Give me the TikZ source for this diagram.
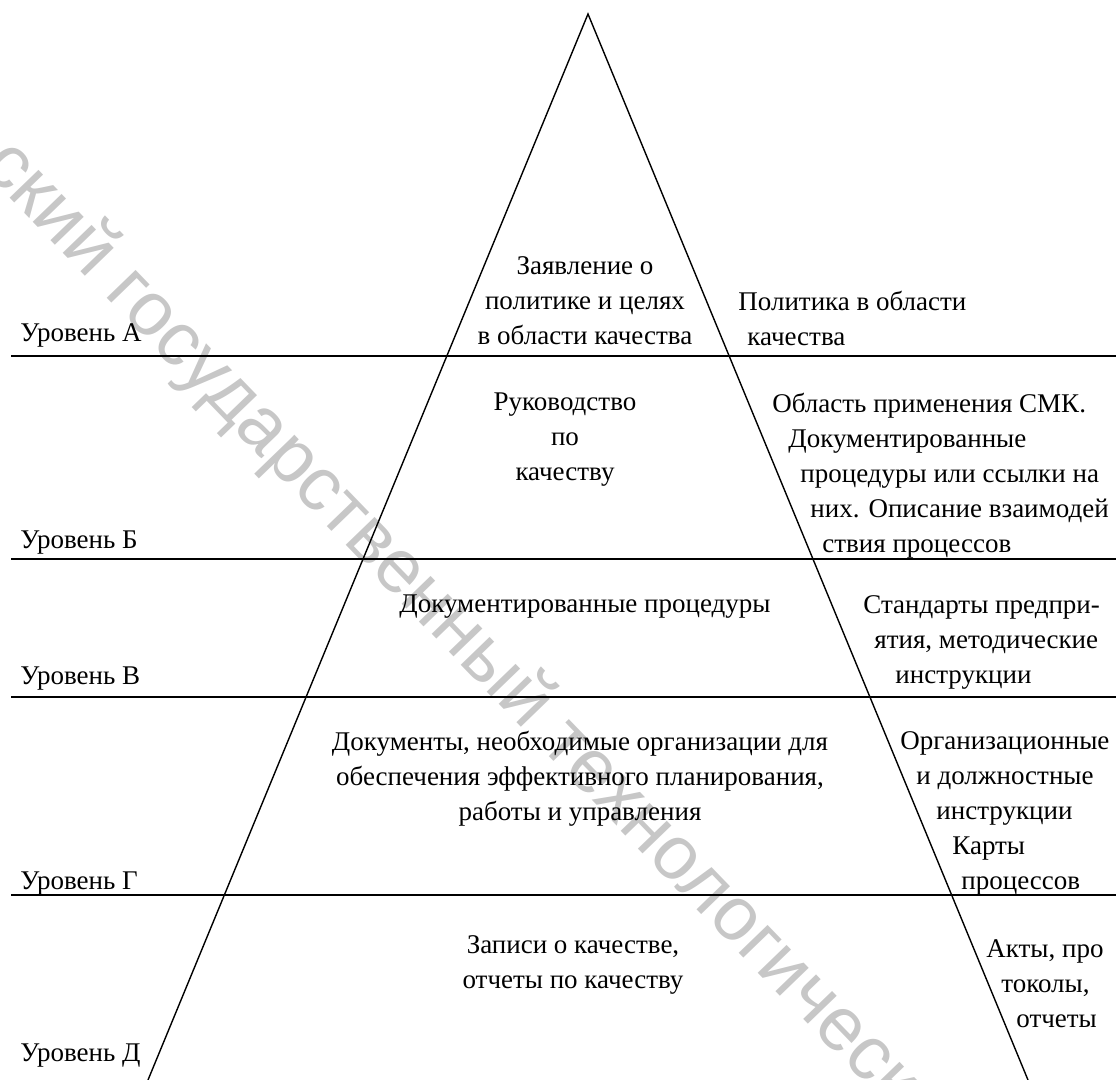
\documentclass[tikz,border=0pt]{standalone}
\usepackage{fontspec}
\setmainfont{Liberation Serif}
\newfontfamily\wmfont{Liberation Sans}

\begin{document}
\begin{tikzpicture}[
      x=0.5pt, y=-0.5pt,
      every node/.style={inner sep=0pt, font=\fontsize{13.5}{17.5}\selectfont},
      lvl/.style={anchor=base west},
      mid/.style={align=center},
      side/.style={align=left, anchor=west},
      rule/.style={line width=1pt},
      edge/.style={line width=0.7pt}
    ]
    \useasboundingbox (0,0) rectangle (1116,1080);

    % marca d'agua
    \begin{scope}
      \clip (0,0) rectangle (1116,1080);
      \node[rotate=-46, anchor=base west, text=black!22,
        font=\wmfont\fontsize{38}{38}\selectfont] (wm) at (-20,167)
        {ский государственный технологический};
    \end{scope}

    % piramide
    \coordinate (top) at (588,14);
    \coordinate (bl) at (148,1080);
    \coordinate (br) at (1028,1080);
    \draw[edge] (bl) -- (top) -- (br);

    \foreach \y in {356,559,697,895}
      \draw[rule] (11,\y) -- (1116,\y);

    % niveis
    \node[lvl] (lA) at (20,342) {Уровень А};
    \node[lvl] (lB) at (20,549) {Уровень Б};
    \node[lvl] (lC) at (20,685) {Уровень В};
    \node[lvl] (lD) at (20,890) {Уровень Г};
    \node[lvl] (lE) at (20,1062) {Уровень Д};

    % dentro da piramide
    \node[mid] (tA) at (585,301) {Заявление о\\политике и целях\\в области качества};
    \node[mid] (tB) at (565,440) {Руководство\\по\\качеству};
    \node[mid] (tC) at (585,607) {Документированные процедуры};
    \node[mid] (tD) at (580,779) {Документы, необходимые организации для\\обеспечения эффективного планирования,\\работы и управления};
    \node[mid] (tE) at (573,965) {Записи о качестве,\\отчеты по качеству};

    % lado direito
    \node[side] (sA) at (738,318) {Политика в области\\\hspace*{4.5pt}качества};
    \node[side] (sB) at (772,476) {Область применения СМК.\\
      \hspace*{8pt}Документированные\\
      \hspace*{14pt}процедуры или ссылки на\\
      \hspace*{19pt}них. Описание взаимодей\\
      \hspace*{25pt}ствия процессов};
    \node[side] (sC) at (863,642) {Стандарты предпри-\\
      \hspace*{5.5pt}ятия, методические\\
      \hspace*{16pt}инструкции};
    \node[side] (sD) at (900,813) {Организационные\\
      \hspace*{8pt}и должностные\\
      \hspace*{18pt}инструкции\\
      \hspace*{26pt}Карты\\
      \hspace*{30.5pt}процессов};
    \node[side] (sE) at (986,984) {Акты, про\\
      \hspace*{7.5pt}токолы,\\
      \hspace*{15pt}отчеты};

  \end{tikzpicture}
\end{document}
